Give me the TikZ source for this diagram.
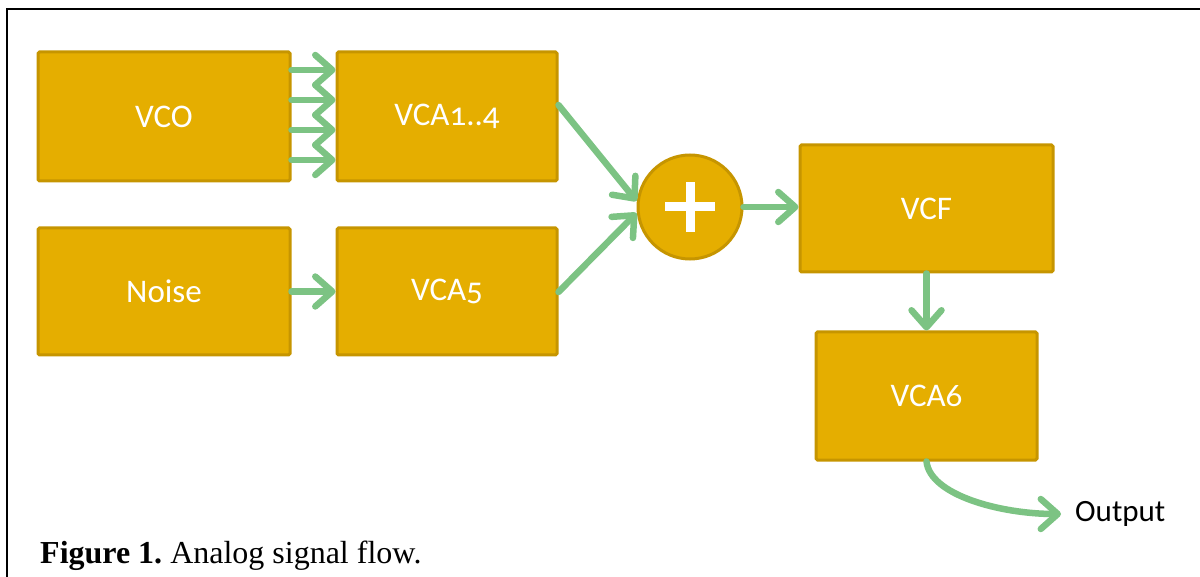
\documentclass[tikz,border=0pt]{standalone}
\usepackage{fontspec}
\setmainfont{Liberation Serif}
\newfontfamily\boxfont[Numbers=OldStyle]{Carlito}
\usetikzlibrary{arrows.meta,calc}
\definecolor{boxfill}{HTML}{E5AE00}
\definecolor{boxline}{HTML}{C69500}
\definecolor{arrowgreen}{HTML}{7CC383}
\tikzset{
  blk/.style={draw=boxline, fill=boxfill, line width=3pt, rounded corners=1.5pt, inner sep=0pt,
    font=\boxfont\fontsize{33}{36}\selectfont, text=white},
  sumnode/.style={circle, draw=boxline, fill=boxfill, line width=3pt, minimum size=104pt, inner sep=0pt},
  flow/.style={draw=arrowgreen, line width=6.5pt, line cap=round,
    -{Straight Barb[length=17pt, width=30pt, line width=6.5pt, round]}},
}
\begin{document}
\frenchspacing
\begin{tikzpicture}[x=1pt,y=-1pt]
\useasboundingbox (0,0) rectangle (1200,577);
\draw[line width=2pt] (1200,9) -- (7,9) -- (7,577);
\node[blk, minimum width=252pt, minimum height=129pt] (vco) at (164,116.5) {VCO};
\node[blk, minimum width=220pt, minimum height=129pt] (vca14) at (447,116.5) {VCA1..4};
\node[blk, minimum width=252pt, minimum height=127pt] (noise) at (164,291.5) {Noise};
\node[blk, minimum width=220pt, minimum height=127pt] (vca5) at (447,291.5) {VCA5};
\node[sumnode] (sum) at (690,207) {};
\fill[white] ($(sum.center)+(-25,-4.5)$) rectangle ($(sum.center)+(25,4.5)$);
\fill[white] ($(sum.center)+(-4.5,-25)$) rectangle ($(sum.center)+(4.5,25)$);
\node[blk, minimum width=253pt, minimum height=127pt] (vcf) at (926.5,208.5) {VCF};
\node[blk, minimum width=221pt, minimum height=128pt] (vca6) at (926.5,396) {VCA6};
\node[anchor=west, font=\boxfont\fontsize{31}{34}\selectfont, inner sep=0pt] (out) at (1075,514) {Output};
\node[anchor=base west, font=\fontsize{32}{36}\selectfont, inner sep=0pt] (cap) at (40,563) {\frenchspacing\textbf{Figure 1.} Analog signal flow.};
\foreach \y in {70,100,130,160}{
  \draw[flow] (vco.east |- 0,\y) -- (vca14.west |- 0,\y);
}
\draw[flow] (noise.east) -- (vca5.west);
\draw[flow] (vca14.east |- 0,105) -- (sum.west |- 0,201);
\draw[flow] (vca5.east |- 0,292) -- (sum.west |- 0,213);
\draw[flow] (sum.east) -- (vcf.west |- sum.east);
\draw[flow] (vcf.south) -- (vca6.north);
\draw[flow, shorten >=14pt] (vca6.south) .. controls (930,495) and (1000,514) .. (out.west);
\end{tikzpicture}
\end{document}
